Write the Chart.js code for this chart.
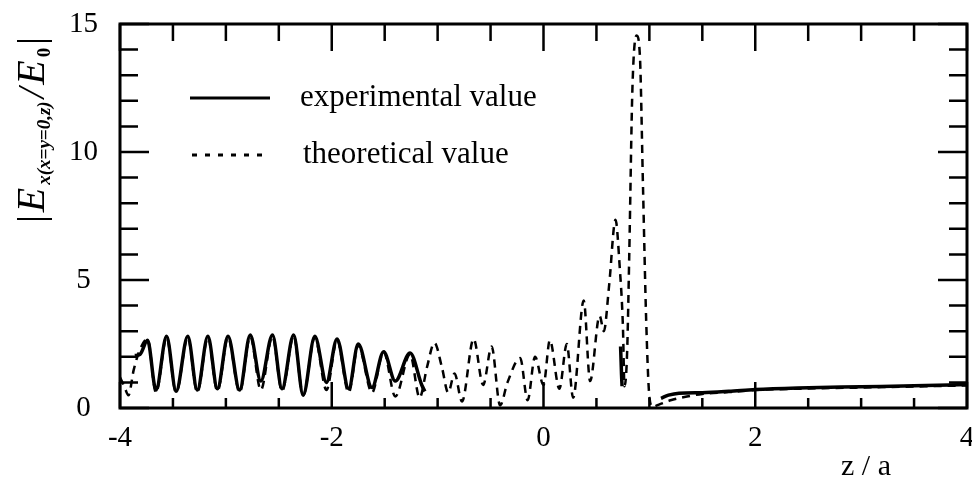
<!DOCTYPE html>
<html>
<head>
<meta charset="utf-8">
<script src="https://cdn.jsdelivr.net/npm/chart.js@4.4.0/dist/chart.umd.min.js"></script>
<style>
    html, body { margin: 0; padding: 0; background: #fff; }
    #wrap { width: 972px; height: 480px; }
</style>
</head>
<body>
<div id="wrap"><canvas id="chart" width="972" height="480"></canvas></div>
<script>
// ============================================
// |Ex(x=y=0,z)/E0| en función de z/a
// ============================================

// Ejes
const xTicks = [-4, -2, 0, 2, 4];
const yTicks = [0, 5, 10, 15];

// Valor experimental (null = hueco en la curva)
const expZ = [-3.86, -3.81, -3.74, -3.66, -3.56, -3.47, -3.36, -3.27, -3.17, -3.08,
              -2.98, -2.87, -2.77, -2.67, -2.56, -2.47, -2.36, -2.27, -2.16, -2.05,
              -1.95, -1.84, -1.75, -1.62, -1.51, -1.40, -1.26, -1.15, -1.12,
              -1.0,
              0.728, 0.733, 0.737, 0.742,
              0.9,
              1.11, 1.18, 1.28, 1.5, 1.75, 2.0, 2.4, 3.0, 3.5, 4.0];
const expV = [2.05, 2.1, 2.65, 0.7, 2.8, 0.65, 2.8, 0.7, 2.8, 0.75,
              2.8, 0.7, 2.85, 1.05, 2.85, 0.75, 2.85, 0.5, 2.8, 1.0,
              2.7, 0.75, 2.5, 0.8, 2.2, 1.05, 2.15, 0.9, 0.65,
              null,
              2.4, 1.8, 1.3, 0.85,
              null,
              0.38, 0.5, 0.58, 0.6, 0.65, 0.72, 0.78, 0.83, 0.87, 0.92];

// Valor teórico
const theoZ = [-4.0, -3.96, -3.92, -3.87, -3.81, -3.74, -3.66, -3.56, -3.47, -3.36,
               -3.27, -3.17, -3.08, -2.98, -2.87, -2.77, -2.67, -2.56, -2.47, -2.36,
               -2.27, -2.16, -2.05, -1.95, -1.84, -1.75, -1.62, -1.51, -1.40, -1.26,
               -1.17, -1.10, -1.03, -0.96, -0.90, -0.84, -0.77, -0.66, -0.57, -0.49,
               -0.41, -0.34, -0.22, -0.15, -0.08, 0.0, 0.06, 0.15, 0.22, 0.28,
               0.38, 0.44, 0.53, 0.57, 0.62, 0.68, 0.72, 0.75, 0.765, 0.79,
               0.81, 0.84, 0.88, 0.91, 0.94, 0.97, 1.0, 1.03, 1.1, 1.2,
               1.32, 1.5, 1.75, 2.0, 2.5, 3.0, 3.5, 4.0];
const theoV = [1.2, 0.85, 0.5, 1.5, 2.3, 2.7, 0.6, 2.75, 0.6, 2.75,
               0.6, 2.75, 0.65, 2.75, 0.6, 2.8, 0.7, 2.8, 0.65, 2.8,
               0.5, 2.75, 0.7, 2.65, 0.6, 2.45, 0.6, 2.2, 0.45, 2.1,
               0.4, 1.6, 2.55, 1.6, 0.6, 1.35, 0.25, 2.7, 0.9, 2.4,
               0.1, 1.0, 1.95, 0.3, 2.0, 0.9, 2.65, 0.75, 2.5, 0.4,
               4.2, 1.05, 3.6, 3.0, 4.8, 7.35, 5.5, 3.2, 0.85, 2.2,
               6.0, 12.5, 14.55, 13.8, 8.6, 3.4, 0.45, 0.05, 0.15, 0.3,
               0.42, 0.55, 0.62, 0.7, 0.76, 0.8, 0.84, 0.88];

// Leyenda
const legendLabels = ['experimental value', 'theoretical value'];
const xTitle = 'z / a';

const SERIF = '"Liberation Serif", "DejaVu Serif", serif';

function toPoints(zs, vs) {
    return zs.map((z, i) => ({ x: z, y: vs[i] }));
}

// Marco, marcas interiores, leyenda y títulos
const decorPlugin = {
    id: 'decor',
    afterDraw(chart) {
        const ctx = chart.ctx;
        const a = chart.chartArea;
        const xs = chart.scales.x;
        const ys = chart.scales.y;

        ctx.save();
        ctx.strokeStyle = '#000';
        ctx.fillStyle = '#000';
        ctx.lineCap = 'butt';

        // marcas en x (cada 0.5)
        ctx.lineWidth = 2.5;
        ctx.beginPath();
        for (let i = 0; i <= 16; i++) {
            const v = xs.min + i * 0.5;
            const px = xs.getPixelForValue(v);
            const major = xTicks.includes(v);
            ctx.moveTo(px, a.bottom);
            ctx.lineTo(px, a.bottom - (major ? 26 : 10));
            ctx.moveTo(px, a.top);
            ctx.lineTo(px, a.top + (major ? 27 : 17));
        }
        // marcas en y (cada 1)
        for (let v = 0; v <= 15; v++) {
            const py = ys.getPixelForValue(v);
            const major = yTicks.includes(v);
            ctx.moveTo(a.left, py);
            ctx.lineTo(a.left + (major ? 29 : 18), py);
            ctx.moveTo(a.right, py);
            ctx.lineTo(a.right - (major ? 29 : 18), py);
        }
        ctx.stroke();

        // marco
        ctx.lineWidth = 3;
        ctx.strokeRect(a.left, a.top, a.right - a.left, a.bottom - a.top);

        // leyenda
        ctx.lineWidth = 3;
        ctx.beginPath();
        ctx.moveTo(190, 98);
        ctx.lineTo(270, 98);
        ctx.stroke();
        ctx.setLineDash([5, 8]);
        ctx.beginPath();
        ctx.moveTo(192, 155);
        ctx.lineTo(268, 155);
        ctx.stroke();
        ctx.setLineDash([]);

        ctx.font = '31px ' + SERIF;
        ctx.textBaseline = 'middle';
        ctx.textAlign = 'left';
        ctx.fillText(legendLabels[0], 300, 98);
        ctx.fillText(legendLabels[1], 303, 155);

        // título eje x
        ctx.font = '30px ' + SERIF;
        ctx.textAlign = 'center';
        ctx.fillText(xTitle, 866, 467);

        // título eje y: |E_x(x=y=0,z)/E_0|
        const parts = [
            { t: '|', f: '38px ' + SERIF, dy: 0 },
            { t: 'E', f: 'italic 40px ' + SERIF, dy: 0 },
            { t: 'x(x=y=0,z)', f: 'italic bold 19px ' + SERIF, dy: 6 },
            { t: '/', f: 'italic 38px ' + SERIF, dy: 0 },
            { t: 'E', f: 'italic 40px ' + SERIF, dy: 0 },
            { t: '0', f: 'bold 19px ' + SERIF, dy: 6 },
            { t: '|', f: '38px ' + SERIF, dy: 0 }
        ];
        const gap = 3;
        let total = 0;
        parts.forEach(p => {
            ctx.font = p.f;
            p.w = ctx.measureText(p.t).width;
            total += p.w + gap;
        });
        total -= gap;
        ctx.translate(44, 130);
        ctx.rotate(-Math.PI / 2);
        ctx.textAlign = 'left';
        ctx.textBaseline = 'alphabetic';
        let cx = -total / 2;
        parts.forEach(p => {
            ctx.font = p.f;
            ctx.fillText(p.t, cx, p.dy);
            cx += p.w + gap;
        });

        ctx.restore();
    }
};

const chart = new Chart(document.getElementById('chart'), {
    type: 'scatter',
    data: {
        datasets: [
            {
                label: legendLabels[0],
                data: toPoints(expZ, expV),
                showLine: true,
                borderColor: '#000',
                borderWidth: 3.5,
                pointRadius: 0,
                cubicInterpolationMode: 'monotone',
                spanGaps: false
            },
            {
                label: legendLabels[1],
                data: toPoints(theoZ, theoV),
                showLine: true,
                borderColor: '#000',
                borderWidth: 2.5,
                borderDash: [8, 6],
                pointRadius: 0,
                cubicInterpolationMode: 'monotone'
            }
        ]
    },
    options: {
        responsive: false,
        animation: false,
        events: [],
        layout: { padding: { top: 24, right: 5, bottom: 0, left: 0 } },
        plugins: {
            legend: { display: false },
            tooltip: { enabled: false }
        },
        scales: {
            x: {
                type: 'linear',
                min: -4,
                max: 4,
                afterBuildTicks: s => { s.ticks = xTicks.map(v => ({ value: v })); },
                afterFit: s => { s.height = 72; s.paddingLeft = 0; s.paddingRight = 0; },
                grid: { display: false, drawTicks: false },
                border: { display: false },
                ticks: {
                    color: '#000',
                    padding: 13,
                    font: { family: SERIF, size: 29 },
                    maxRotation: 0
                }
            },
            y: {
                min: 0,
                max: 15,
                afterBuildTicks: s => { s.ticks = yTicks.map(v => ({ value: v })); },
                afterFit: s => { s.width = 120; s.paddingTop = 0; s.paddingBottom = 0; },
                grid: { display: false, drawTicks: false },
                border: { display: false },
                ticks: {
                    color: '#000',
                    padding: 22,
                    crossAlign: 'center',
                    font: { family: SERIF, size: 29 }
                }
            }
        }
    },
    plugins: [decorPlugin]
});
</script>
</body>
</html>
